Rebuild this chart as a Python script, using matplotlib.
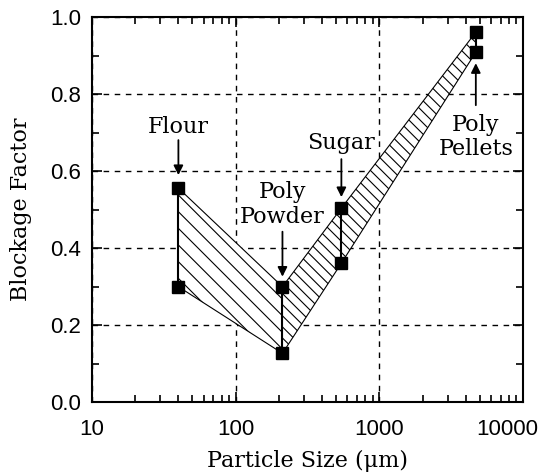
import matplotlib
matplotlib.use('Agg')
from matplotlib import pyplot as plt
from matplotlib.patches import Polygon
from matplotlib.ticker import MultipleLocator, LogLocator, NullFormatter
from matplotlib.transforms import ScaledTranslation

# particle sizes (um) and blockage factor ranges (high / low)
materials = ['Flour', 'Poly\nPowder', 'Sugar', 'Poly\nPellets']
size = [40, 212, 545, 4700]
high = [0.556, 0.300, 0.504, 0.961]
low = [0.300, 0.127, 0.361, 0.909]

# label placement in pixels above (+) / below (-) the marked point:
# text centre, arrow tail, arrow tip
text_dy = [61, 82, 65, -85]
tail_dy = [48, 55, 49, -53]
tip_dy = [13, 10, 11, -11]

plt.rcParams['hatch.linewidth'] = 0.8
serif = 'DejaVu Serif'

fig = plt.figure(figsize=(5.47, 4.76), dpi=100)
ax = fig.add_axes([0.168, 0.155, 0.788, 0.809])

ax.set_xscale('log')
ax.set_xlim(10, 10000)
ax.set_ylim(0, 1.0)

# hatched band, left part (flour -> poly powder)
left = [(size[0], high[0]), (size[1], high[1]), (size[1], low[1]), (size[0], low[0])]
ax.add_patch(Polygon(left, closed=True, facecolor='white', edgecolor='black',
                     hatch='\\\\', linewidth=0.8, zorder=2))
# hatched band, right part (poly powder -> sugar -> pellets)
right = [(size[1], high[1]), (size[2], high[2]), (size[3], high[3]),
         (size[3], low[3]), (size[2], low[2]), (size[1], low[1])]
ax.add_patch(Polygon(right, closed=True, facecolor='white', edgecolor='black',
                     hatch='\\\\\\', linewidth=0.8, zorder=2))

# vertical range bars and square markers
for x, h, l in zip(size, high, low):
    ax.plot([x, x], [l, h], color='black', lw=1.5, zorder=3)
ax.plot(size, high, 's', color='black', ms=8, zorder=4)
ax.plot(size, low, 's', color='black', ms=8, zorder=4)

# labels with arrows
for i, name in enumerate(materials):
    y = high[i] if text_dy[i] > 0 else low[i]
    ax.annotate(name, xy=(size[i], y), xytext=(0, text_dy[i]),
                textcoords='offset pixels', ha='center', va='center',
                fontsize=16, family=serif, linespacing=1.15, zorder=5)
    ax.annotate('', xy=(size[i], y), xytext=(0, tail_dy[i]),
                textcoords='offset pixels',
                arrowprops=dict(arrowstyle='-|>', color='black', lw=1.3,
                                mutation_scale=14, shrinkA=0, shrinkB=abs(tip_dy[i]) * 0.72),
                zorder=5)

ax.grid(True, which='major', color='black', linestyle=(0, (4, 4)), linewidth=1)
ax.xaxis.set_minor_locator(LogLocator(base=10, subs=range(2, 10)))
ax.xaxis.set_minor_formatter(NullFormatter())
ax.yaxis.set_major_locator(MultipleLocator(0.2))
ax.yaxis.set_minor_locator(MultipleLocator(0.1))
ax.set_xticks([10, 100, 1000, 10000])
ax.set_xticklabels(['10', '100', '1000', '10000'])
ax.set_yticks([0.0, 0.2, 0.4, 0.6, 0.8, 1.0])
ax.set_yticklabels(['0.0', '0.2', '0.4', '0.6', '0.8', '1.0'])
ax.tick_params(which='both', direction='in', top=True, right=True, width=1.2,
               colors='black')
ax.tick_params(which='major', length=7)
ax.tick_params(which='minor', length=5)
ax.tick_params(axis='x', pad=12)
ax.tick_params(axis='y', pad=8)
for lab in ax.get_xticklabels() + ax.get_yticklabels():
    lab.set_family('Liberation Sans')
    lab.set_fontsize(16)
# last x label nudged left so it stays inside the picture
last = ax.get_xticklabels()[-1]
last.set_transform(last.get_transform() + ScaledTranslation(-0.16, 0, fig.dpi_scale_trans))

for s in ax.spines.values():
    s.set_linewidth(1.5)

ax.set_xlabel('Particle Size (μm)', fontsize=16, family=serif)
ax.set_ylabel('Blockage Factor', fontsize=16, family=serif)
ax.xaxis.set_label_coords(0.5, -0.125)
ax.yaxis.set_label_coords(-0.14, 0.5)

fig.savefig('out.png', dpi=100)
